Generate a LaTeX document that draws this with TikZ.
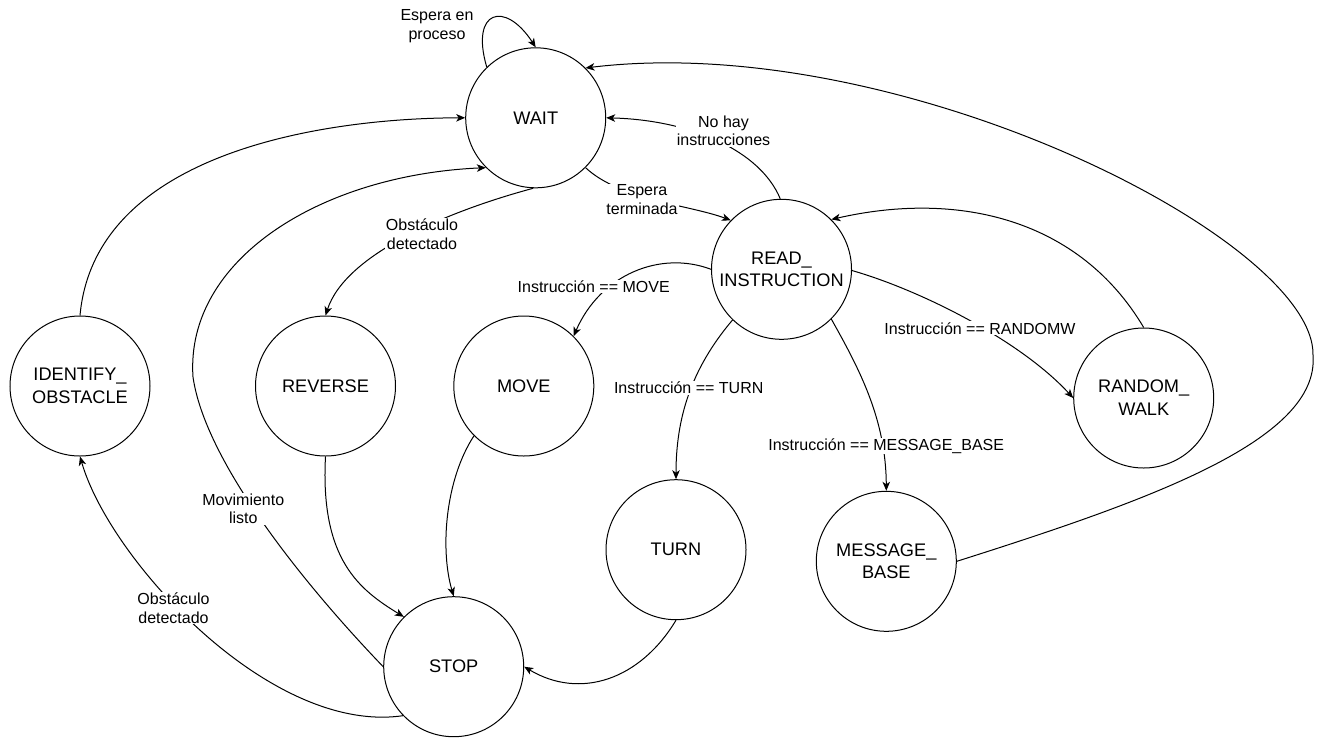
\documentclass[tikz,border=0pt]{standalone}
\usepackage{fontspec}
\setmainfont{Liberation Sans}
\usetikzlibrary{arrows.meta}
\begin{document}
\begin{tikzpicture}[x=1pt,y=-1pt,
  state/.style={circle, draw, line width=1pt, minimum size=140pt, inner sep=0pt,
    align=center, font=\fontsize{18.2}{22.8}\selectfont},
  trans/.style={draw, line width=1pt, -{Stealth[length=9pt,width=7.5pt,inset=2.5pt]}},
  lbl/.style={fill=white, inner sep=1pt, align=center, font=\fontsize{16}{18.4}\selectfont}]

% canvas
\fill[white] (0,0) rectangle (1322,737);
\useasboundingbox (0,0) rectangle (1322,737);

% states
\node[state] (wait)    at (535.7,117.8) {WAIT};
\node[state] (read)    at (781.5,269.3) {READ\_\\INSTRUCTION};
\node[state] (ident)   at (80,386)      {IDENTIFY\_\\OBSTACLE};
\node[state] (reverse) at (325.5,386)   {REVERSE};
\node[state] (move)    at (523.8,386)   {MOVE};
\node[state] (turn)    at (676,549.7)   {TURN};
\node[state] (msg)     at (886.3,561.3) {MESSAGE\_\\BASE};
\node[state] (rw)      at (1143.7,398)  {RANDOM\_\\WALK};
\node[state] (stop)    at (453.7,666.7) {STOP};

% waypoints of the long curves
\coordinate (mvia)  at (193,377);
\coordinate (mbvia) at (1313,355);

% transitions
\draw[trans] (wait.134) .. controls (470,10) and (505,0) .. (wait.90);
\draw[trans] (read.91) .. controls (760,150) and (690,120) .. (wait.0);
\draw[trans] (wait.-45) .. controls (620,200) and (690,205) .. (read.136);
\draw[trans] (wait.-92) .. controls (445,212) and (345,255) .. (reverse.90);
\draw[trans] (ident.90) .. controls (95,150) and (330,118) .. (wait.180);
\draw[trans] (stop.180) .. controls (300,580) and (205,460) .. (mvia)
             .. controls (185,260) and (320,175) .. (wait.-135);
\draw[trans] (stop.224) .. controls (270,735) and (110,560) .. (ident.-90);
\draw[trans] (reverse.-90) .. controls (320,560) and (360,590) .. (stop.135);
\draw[trans] (move.-135) .. controls (445,480) and (440,550) .. (stop.90);
\draw[trans] (turn.-90) .. controls (640,680) and (580,700) .. (stop.0);
\draw[trans] (read.180) .. controls (660,250) and (600,275) .. (move.45);
\draw[trans] (read.-134) .. controls (690,370) and (676,420) .. (turn.90);
\draw[trans] (read.-45) .. controls (860,370) and (886,420) .. (msg.90);
\draw[trans] (read.-1) .. controls (920,290) and (1020,340) .. (rw.180);
\draw[trans] (rw.90) .. controls (1080,220) and (960,190) .. (read.45);
\draw[trans] (msg.0) .. controls (1150,500) and (1320,440) .. (mbvia)
             .. controls (1315,240) and (900,30) .. (wait.45);

% transition labels
\node[lbl] (l1)  at (437,26)      {Espera en\\proceso};
\node[lbl] (l2)  at (723.5,131)   {No hay\\instrucciones};
\node[lbl] (l3)  at (642,199.5)   {Espera\\terminada};
\node[lbl] (l4)  at (422,234)     {Obstáculo\\detectado};
\node[lbl] (l5)  at (243.3,509)   {Movimiento\\listo};
\node[lbl] (l6)  at (173.5,608)   {Obstáculo\\detectado};
\node[lbl] (l7)  at (593.7,286.5) {Instrucción == MOVE};
\node[lbl] (l8)  at (688.7,388)   {Instrucción == TURN};
\node[lbl] (l9)  at (886.2,446)   {Instrucción == MESSAGE\_BASE};
\node[lbl] (l10) at (980,328.3)   {Instrucción == RANDOMW};
\end{tikzpicture}
\end{document}
